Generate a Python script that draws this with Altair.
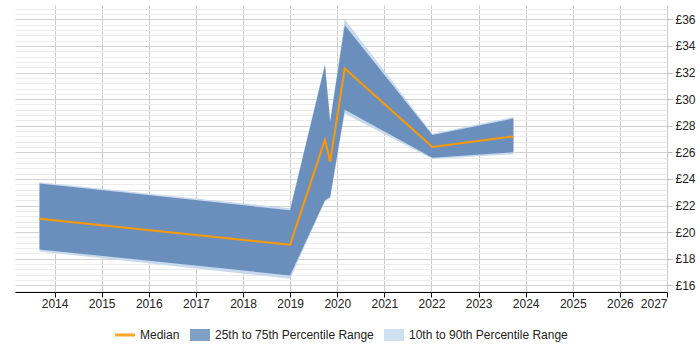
import altair as alt
import pandas as pd

# Hourly rate percentiles over time (decimal years)
years = [2013.68, 2019.0, 2019.74, 2019.85, 2020.16, 2022.02, 2023.74]
median = [21.0, 19.05, 26.95, 25.3, 32.3, 26.4, 27.2]
p25 = [18.7, 16.75, 22.4, 22.65, 29.2, 25.6, 26.0]
p75 = [23.65, 21.65, 32.55, 28.3, 35.55, 27.3, 28.55]
p10 = [18.55, 16.5, 22.3, 22.55, 28.9, 25.5, 25.85]
p90 = [23.75, 21.8, 32.7, 28.4, 36.0, 27.4, 28.65]

series_names = ["Median", "25th to 75th Percentile Range", "10th to 90th Percentile Range"]
series_colors = ["#ff9900", "#6b8fbc", "#c6d9ed"]
series_shapes = [
    "M-1,-0.15L1,-0.15L1,0.15L-1,0.15Z",
    "M-1,-0.6L1,-0.6L1,0.6L-1,0.6Z",
    "M-1,-0.6L1,-0.6L1,0.6L-1,0.6Z",
]

year_ticks = list(range(2014, 2028))
y_grid_values = [v / 10 for v in range(156, 372, 4)]

df = pd.DataFrame({
    "year": years, "median": median,
    "p10": p10, "p25": p25, "p75": p75, "p90": p90,
})
legend_df = pd.DataFrame({"series": series_names, "year": [None] * 3})

FONT = "Liberation Sans"
major_test = "abs(datum.value - 2*round(datum.value/2)) < 0.01"

x_scale = alt.Scale(domain=[2013.16, 2027], nice=False, zero=False)
y_scale = alt.Scale(domain=[15.5, 37.08], nice=False, zero=False)

x_axis = alt.Axis(
    values=year_ticks, tickCount=100, format="d", grid=True, gridColor="#cccccc",
    domainColor="#000000", tickColor="#000000", tickSize=5,
    labelPadding=1, labelFontSize=12, labelFont=FONT, labelColor="#222222",
    title=None, labelOverlap=False,
)
y_axis = alt.Axis(
    orient="right", values=y_grid_values, tickCount=200, grid=True,
    gridColor={"condition": {"test": major_test, "value": "#d2d2d2"}, "value": "#ebebeb"},
    tickColor="#bbbbbb",
    tickOpacity={"condition": {"test": major_test, "value": 1}, "value": 0},
    tickSize=5, domain=False, labelPadding=3,
    labelExpr=f"{major_test} ? '£' + format(datum.value, 'd') : ''",
    labelFontSize=12, labelFont=FONT, labelColor="#222222",
    labelOverlap=False, title=None,
)

base = alt.Chart(df)

outer_band = base.mark_area(color=series_colors[2]).encode(
    x=alt.X("year:Q", scale=x_scale, axis=x_axis),
    y=alt.Y("p10:Q", scale=y_scale, axis=y_axis),
    y2="p90:Q",
)
inner_band = base.mark_area(color=series_colors[1]).encode(
    x="year:Q", y="p25:Q", y2="p75:Q",
)
median_line = base.mark_line(color=series_colors[0], strokeWidth=2).encode(
    x="year:Q", y="median:Q",
)

# Invisible carrier layer: supplies the combined legend entries
legend_keys = alt.Chart(legend_df).mark_point(filled=True, opacity=0.85).encode(
    x="year:Q",
    color=alt.Color(
        "series:N",
        scale=alt.Scale(domain=series_names, range=series_colors),
        legend=alt.Legend(title=None),
    ),
    shape=alt.Shape(
        "series:N",
        scale=alt.Scale(domain=series_names, range=series_shapes),
        legend=alt.Legend(title=None),
    ),
)

chart = (
    alt.layer(outer_band, inner_band, median_line, legend_keys)
    .properties(width=652, height=287, padding={"left": 15, "top": 2, "right": 2, "bottom": 5})
    .configure_view(stroke=None)
    .configure_legend(
        orient="none", legendX=100, legendY=320, direction="horizontal", symbolSize=400,
        labelFontSize=12, labelFont=FONT, labelColor="#222222",
        columnPadding=10, labelOffset=5, symbolStrokeWidth=0,
    )
)

chart.save("out.html", embed_options={"renderer": "svg", "actions": False})
